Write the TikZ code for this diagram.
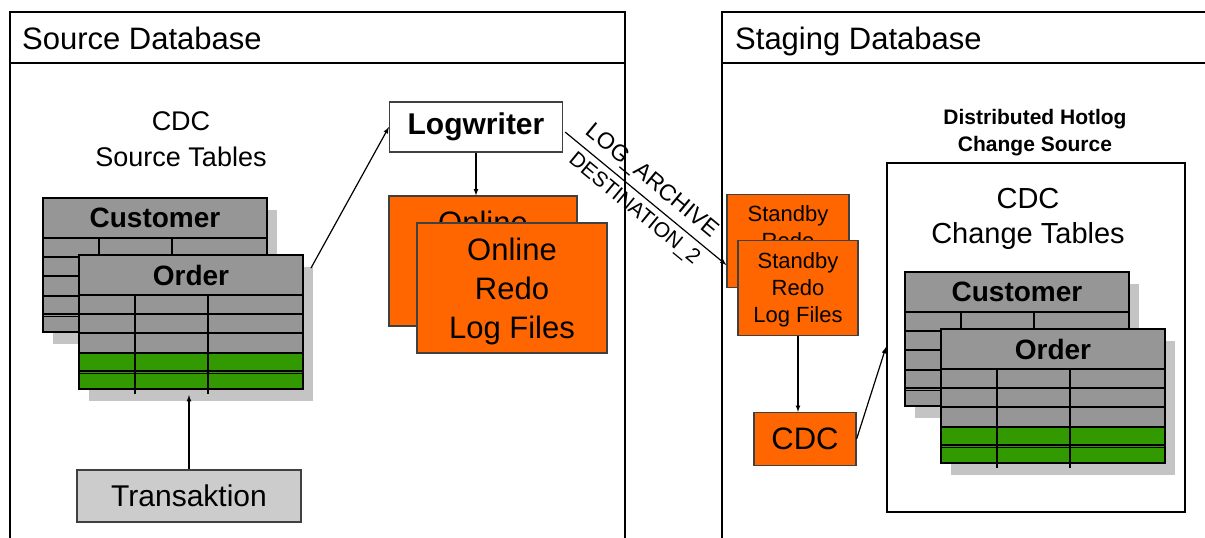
\documentclass[tikz,border=0pt]{standalone}
\usepackage{fontspec}
\setmainfont{Liberation Sans}
\usepackage{tikz}

\definecolor{redolog}{HTML}{FF6600}
\definecolor{tabgray}{HTML}{969696}
\definecolor{rowgreen}{HTML}{339900}
\definecolor{shadowgray}{HTML}{C4C4C4}
\definecolor{tragray}{HTML}{CCCCCC}

% table with shadow: x, y of top left, node name, title, colour of last rows
\newcommand{\dbtab}[5]{%
  \fill[shadowgray] (#1+10,#2+12) rectangle (#1+234,#2+146);
  \node[tabbody,anchor=north west] (#3) at (#1,#2) {};
  \fill[#5] (#1,#2+98) rectangle (#1+224,#2+134);
  \foreach \r in {59,78,98,116,118.5} \draw[line width=1.1pt] (#1,#2+\r) -- (#1+224,#2+\r);
  \foreach \cx in {56,129} \draw[line width=1.2pt] (#1+\cx,#2+40) -- (#1+\cx,#2+139);
  \draw[line width=2.5pt] (#1,#2+40) -- (#1+224,#2+40);
  \draw[line width=2.5pt] (#3.north west) rectangle (#3.south east);
  \node[font=\fontsize{28}{30}\selectfont\bfseries] (#3T) at (#1+112,#2+20) {#4};
}

\begin{document}
\begin{tikzpicture}[x=1pt,y=-1pt]
    \tikzset{pname/.style={draw=black!75,rectangle,line width=1.2pt,inner sep=0pt,align=center},
             redo/.style={pname,fill=redolog,text depth=0pt},
             tabbody/.style={fill=tabgray,minimum width=224pt,minimum height=134pt,inner sep=0pt,outer sep=0pt},
             dbbox/.style={draw,line width=2pt}}
    \tikzstyle{fleche}=[->,>=latex,line width=1.2pt]
    \useasboundingbox (0,0) rectangle (1205,538);
    \clip (0,0) rectangle (1205,538);

    % the two databases
    \draw[dbbox] (10,12) rectangle (625,560);
    \draw[dbbox] (10,63) -- (625,63);
    \node[anchor=base west,inner sep=0pt,font=\fontsize{31}{33}\selectfont] (SRC) at (22,49) {Source Database};
    \draw[dbbox] (722,12) rectangle (1230,560);
    \draw[dbbox] (722,63) -- (1230,63);
    \node[anchor=base west,inner sep=0pt,font=\fontsize{31}{33}\selectfont] (STG) at (735,49) {Staging Database};

    % source side
    \node[align=center,font=\fontsize{27}{36}\selectfont] (SRCTAB) at (181,139) {CDC\\Source Tables};
    \dbtab{43}{198}{CUS}{Customer}{tabgray}
    \dbtab{79}{255}{ORD}{Order}{rowgreen}
    \node[pname,fill=tragray,minimum width=224pt,minimum height=52pt,font=\fontsize{30}{32}\selectfont] (TRA) at (189,496) {Transaktion};
    \draw[fleche] (TRA.north) -- ([yshift=-6pt]TRA.north |- ORD.south);

    \node[pname,fill=white,minimum width=173pt,minimum height=50pt,font=\fontsize{30}{32}\selectfont\bfseries] (LW) at (476,127) {Logwriter};
    \draw[fleche] ([shift={(8,13)}]ORD.north east) -- (LW.west);

    \node[redo,minimum width=188pt,minimum height=130pt,font=\fontsize{31}{39}\selectfont] (OLB) at (483,261) {Online\\Redo\\Log Files};
    \node[redo,minimum width=190pt,minimum height=130pt,font=\fontsize{31}{39}\selectfont] (OLF) at (512,288) {Online\\Redo\\Log Files};
    \draw[fleche] (LW.south) -- (LW.south |- OLB.north);

    % staging side
    \node[redo,minimum width=122pt,minimum height=93pt,font=\fontsize{22}{27}\selectfont] (SBB) at (788,241) {Standby\\Redo\\Log Files};
    \node[redo,minimum width=120pt,minimum height=95pt,font=\fontsize{22}{27}\selectfont] (SBF) at (798,288) {Standby\\Redo\\Log Files};
    \draw[fleche] ([shift={(2,5)}]LW.east) -- ([shift={(0,24)}]SBB.west)
        node[pos=.47,above,sloped,inner sep=6pt,font=\fontsize{23}{25}\selectfont] {LOG\_ARCHIVE}
        node[pos=.49,below,sloped,inner sep=6pt,font=\fontsize{21}{23}\selectfont] {DESTINATION\_2};

    \node[redo,minimum width=102pt,minimum height=53pt,font=\fontsize{31}{33}\selectfont] (CDC) at (805,439) {CDC};
    \draw[fleche] (SBF.south) -- (SBF.south |- CDC.north);

    \node[align=center,font=\fontsize{21}{27}\selectfont\bfseries] (HOTL) at (1035,133) {Distributed Hotlog\\Change Source};
    \node[draw,line width=2pt,minimum width=298pt,minimum height=349pt] (HOT) at (1036,337) {};
    \node[align=center,font=\fontsize{29}{35}\selectfont] (CHGTAB) at (1028,219) {CDC\\Change Tables};
    \dbtab{905}{272}{CUS2}{Customer}{tabgray}
    \dbtab{941}{329}{ORD2}{Order}{rowgreen}
    \draw[fleche] (CDC.east) -- ([shift={(0,10)}]HOT.west);
  \end{tikzpicture}
\end{document}
